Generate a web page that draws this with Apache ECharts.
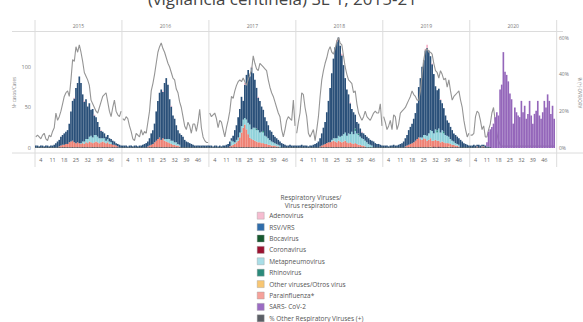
<!DOCTYPE html>
<html><head><meta charset="utf-8">
<script src="https://cdn.jsdelivr.net/npm/echarts/dist/echarts.min.js"></script>
<style>html,body{margin:0;padding:0;background:#fff}#c{width:583px;height:322px}</style>
</head><body><div id="c"></div><script>
// ---------- DATA ----------
const years = ['2015','2016','2017','2018','2019','2020'];
const weeks = [1,2,3,4,5,6,7,8,9,10,11,12,13,14,15,16,17,18,19,20,21,22,23,24,25,26,27,28,29,30,31,32,33,34,35,36,37,38,39,40,41,42,43,44,45,46,47,48,49,50,51,52];
const weekLabels = [4,11,18,25,32,39,46];

// 2015
const rsv15   = [2,2,1,2,2,1,2,2,1,2, 2,3,5,7,8,11,12,14,15,17, 23,37,49,54,68,73,82,74,58,49, 49,40,41,32,35,24,22,18,14,9, 8,6,5,5,4,4,5,4,3,3, 3,2];
const para15  = [0,0,0,0,0,0,0,0,0,0, 0,0,0,0,1,2,3,3,4,4, 6,7,8,6,5,6,5,4,5,4, 6,5,7,6,5,6,7,6,5,6, 7,6,5,6,4,4,3,3,2,1, 0,0];
const metap15 = [0,0,0,0,0,0,0,0,0,0, 0,0,0,0,0,0,0,0,0,0, 0,0,0,0,0,0,0,1,2,3, 4,5,6,8,7,9,8,7,6,5, 4,5,3,4,3,2,0,0,0,0, 0,0];
const boca15  = [1,1,1,1,1,1,1,1,1,1, 1,1,1,1,1,1,1,1,1,1, 1,1,1,1,1,1,1,1,1,1, 1,1,1,1,1,1,1,1,1,1, 1,1,1,1,1,1,1,1,1,1, 1,1];
const adeno15 = [0,0,0,0,0,0,0,0,0,0, 0,0,0,0,0,0,0,0,0,0, 0,0,0,1,0,0,0,0,0,1, 0,0,0,0,0,1,0,0,0,1, 0,0,0,0,0,0,0,0,0,0, 0,0];
const pct15   = [6,7,6,5,7,8,5,4,7,6, 9,11,19,15,17,20,24,28,30,31, 28,37,48,47,55,52,56,52,47,41, 39,37,34,26,24,22,20,19,22,25, 28,29,30,25,20,17,22,26,20,18, 17,20];

// 2016
const rsv16   = [2,2,2,1,2,2,1,2,2,1, 2,2,3,4,5,6,9,14,17,23, 36,47,55,62,57,69,75,67,49,42, 31,29,21,17,14,15,13,9,7,6, 5,4,3,2,2,2,2,2,2,2, 2,2];
const para16  = [0,0,0,0,0,0,0,0,0,0, 0,0,0,0,0,1,2,3,4,6, 8,10,12,9,11,8,7,6,5,4, 3,3,2,2,1,0,0,0,0,0, 0,0,0,0,0,0,0,0,0,0, 0,0];
const metap16 = [0,0,0,0,0,0,0,0,0,0, 0,0,0,0,0,0,0,0,0,0, 0,0,0,0,0,2,3,4,5,4, 5,3,4,2,2,0,0,0,0,0, 0,0,0,0,0,0,0,0,0,0, 0,0];
const boca16  = [1,1,1,1,1,1,1,1,1,1, 1,1,1,1,1,1,1,1,1,1, 1,1,1,1,1,1,1,1,1,1, 1,1,1,1,1,1,1,1,1,1, 1,1,1,1,1,1,1,1,1,1, 1,1];
const adeno16 = [0,0,0,0,0,0,0,0,0,0, 0,0,0,0,0,0,0,0,0,0, 0,0,0,0,1,0,0,0,0,1, 0,0,0,0,0,0,0,0,0,0, 0,0,0,0,0,0,0,0,0,0, 0,0];
const pct16   = [16,15,17,16,12,9,5,4,8,7, 6,10,7,9,8,14,20,31,35,40, 46,52,55,57,54,52,49,46,44,41, 38,37,32,30,25,22,17,12,10,14, 12,8,13,13,9,14,21,11,6,4, 3,3];

// 2017
const rsv17   = [2,2,1,2,2,1,2,1,2,2, 3,4,6,3,7,15,18,25,29,36, 23,41,55,65,59,76,67,59,50,40, 39,31,26,23,19,16,12,12,9,8, 7,6,5,5,4,3,2,2,3,2, 2,2];
const para17  = [0,0,0,0,0,0,0,0,0,0, 0,0,1,2,3,4,6,8,12,18, 24,28,22,16,12,10,9,8,7,6, 6,5,5,4,4,3,3,2,2,2, 1,1,0,0,0,0,0,0,0,0, 0,0];
const metap17 = [0,0,0,0,0,0,0,0,0,0, 0,0,0,6,4,2,3,4,6,8, 10,8,12,14,16,12,15,16,14,15, 12,14,13,10,9,8,6,5,4,3, 3,2,2,0,0,0,0,0,0,0, 0,0];
const rhino17 = [0,0,0,0,0,0,0,0,0,0, 0,0,0,0,0,0,0,0,0,0, 0,0,0,0,0,0,0,0,2,0, 0,0,2,0,0,0,0,0,0,0, 0,0,0,0,0,0,0,0,0,0, 0,0];
const boca17  = [1,1,1,1,1,1,1,1,1,1, 1,1,1,1,1,1,1,1,1,1, 1,1,1,1,1,1,1,1,1,1, 1,1,1,1,1,1,1,1,1,1, 1,1,1,1,1,1,1,1,1,1, 1,1];
const adeno17 = [0,0,0,0,0,0,0,0,0,0, 0,0,0,0,0,0,0,0,0,0, 0,2,0,0,0,1,0,0,0,1, 0,0,0,0,0,0,0,0,0,0, 0,0,0,0,0,0,0,0,0,0, 0,0];
const pct17   = [19,17,18,19,16,11,15,14,10,6, 11,15,20,28,27,31,34,36,37,36, 38,36,34,37,40,42,50,46,43,42, 46,45,44,43,42,37,33,30,28,25, 22,19,17,10,6,10,15,17,16,15, 26,12];

// 2018
const rsv18   = [2,2,2,3,2,2,2,1,2,2, 3,4,5,7,10,15,21,27,38,51, 67,82,98,112,119,121,112,99,85,67, 57,48,38,28,27,17,14,12,10,7, 7,7,7,7,6,6,7,5,4,4, 3,2];
const para18  = [0,0,0,0,0,0,0,0,0,0, 0,0,0,0,1,2,3,4,5,6, 6,7,8,7,6,8,7,6,7,8, 6,5,6,5,4,5,4,3,3,2, 2,1,0,0,0,0,0,0,0,0, 0,0];
const metap18 = [0,0,0,0,0,0,0,0,0,0, 0,0,0,0,0,0,0,0,0,0, 0,2,3,4,5,6,6,8,9,10, 8,12,10,14,12,15,13,12,10,9, 8,7,6,4,3,2,0,0,0,0, 0,0];
const rhino18 = [0,0,0,0,0,0,0,0,0,0, 0,0,0,0,0,0,0,0,0,0, 0,0,0,0,0,0,0,0,0,0, 0,0,0,0,0,3,0,2,0,0, 0,0,0,0,0,0,0,0,0,0, 0,0];
const boca18  = [1,1,1,1,1,1,1,1,1,1, 1,1,1,1,1,1,1,1,1,1, 1,1,1,1,1,1,1,1,1,1, 1,1,1,1,1,1,1,1,1,1, 1,1,1,1,1,1,1,1,1,1, 1,1];
const adeno18 = [0,0,0,0,0,0,0,0,0,0, 0,0,0,0,0,0,0,0,0,0, 0,0,0,0,2,0,0,2,0,0, 0,0,1,0,0,0,0,0,0,1, 0,0,0,0,0,0,0,0,0,0, 0,0];
const pct18   = [8,14,19,30,29,22,17,8,6,8, 10,4,10,17,28,37,42,46,49,53, 55,52,51,54,58,60,57,56,50,44, 40,37,36,35,30,31,24,19,17,15, 17,20,17,16,15,17,19,20,19,19, 24,12];

// 2019
const rsv19   = [2,2,2,1,2,2,3,2,2,3, 4,5,7,10,13,18,21,24,29,34, 44,62,73,87,92,104,108,102,91,82, 73,53,49,49,40,33,29,24,19,17, 15,13,10,10,9,8,9,7,5,4, 3,2];
const para19  = [0,0,0,0,0,0,0,0,0,0, 0,0,0,1,2,3,4,5,6,8, 10,12,10,9,11,10,8,9,10,8, 7,9,8,7,6,7,6,5,5,4, 4,3,3,2,2,1,0,0,0,0, 0,0];
const metap19 = [0,0,0,0,0,0,0,0,0,0, 0,0,0,0,0,0,0,0,0,0, 0,0,2,3,4,5,6,8,10,12, 9,13,10,15,12,14,11,10,9,8, 6,5,4,3,2,2,0,0,0,0, 0,0];
const rhino19 = [0,0,0,0,0,0,0,0,0,0, 0,0,0,0,0,0,0,0,0,0, 0,0,0,0,0,0,0,0,0,0, 0,0,3,0,0,0,2,0,0,0, 0,0,0,0,0,0,0,0,0,0, 0,0];
const corona19= [0,0,0,0,0,0,0,0,0,0, 0,0,0,0,0,0,0,0,0,0, 0,0,0,0,0,0,0,0,0,0, 1,0,0,1,0,0,0,0,0,0, 0,0,0,0,0,0,0,0,0,0, 0,0];
const other19 = [0,0,0,0,0,0,0,0,0,0, 0,0,0,0,0,0,0,0,0,0, 0,0,0,0,0,0,0,0,1,0, 0,0,0,0,0,0,0,0,0,1, 0,0,0,0,0,0,0,0,0,0, 0,0];
const boca19  = [1,1,1,1,1,1,1,1,1,1, 1,1,1,1,1,1,1,1,1,1, 1,1,1,1,1,1,1,1,1,1, 1,1,1,1,1,1,1,1,1,1, 1,1,1,1,1,1,1,1,1,1, 1,1];
const adeno19 = [0,0,0,0,0,0,0,0,0,0, 0,0,0,0,0,0,0,0,0,0, 0,0,0,0,0,2,4,0,0,1, 0,0,0,0,1,0,0,0,0,0, 0,0,0,0,0,0,0,0,0,0, 0,0];
const pct19   = [17,14,10,12,15,10,18,17,10,13, 19,20,21,22,24,26,28,31,29,28, 26,26,31,40,48,53,54,52,52,51, 46,42,41,38,42,40,37,38,33,37, 31,26,28,29,30,31,26,22,15,10, 6,8];

// 2020
const rsv20   = [2,2,3,2,2,3,2,2,2,2, 1,1,0,0,0,0,0,0,0,0, 0,0,0,0,0,0,0,0,0,0, 0,0,0,0,0,0,0,0,0,0, 0,0,0,0,0,0,0,0,0,0, 0,0];
const para20  = [0,0,0,0,1,0,0,1,1,0, 0,0,0,0,0,0,0,0,0,0, 0,0,0,0,0,0,0,0,0,0, 0,0,0,0,0,0,0,0,0,0, 0,0,0,0,0,0,0,0,0,0, 0,0];
const boca20  = [1,1,1,1,1,1,1,1,1,1, 1,1,1,0,0,0,0,0,0,0, 0,0,0,0,0,0,0,0,0,0, 0,0,0,0,0,0,0,0,0,0, 0,0,0,0,0,0,0,0,0,0, 0,0];
const sars20  = [0,0,0,0,0,0,0,0,0,0, 5,18,22,26,30,38,44,40,72,78, 118,94,90,82,67,60,30,50,44,40, 38,58,44,52,36,42,58,40,30,42, 46,58,40,36,44,58,50,66,58,42, 52,36];
const pct20   = [7,7,8,17,20,19,15,10,12,6, 6,10,13,19,22,15,8,4,2,1, 1,1,1,1,1,1,1,1,1,1, 1,1,1,1,1,1,1,1,1,1, 1,1,1,1,1,1,1,1,1,1, 1,1];

// ---------- BUILD ----------
const yearData = [
  {boca:boca15, para:para15, metap:metap15, rsv:rsv15, adeno:adeno15, pct:pct15},
  {boca:boca16, para:para16, metap:metap16, rsv:rsv16, adeno:adeno16, pct:pct16},
  {boca:boca17, para:para17, metap:metap17, rhino:rhino17, rsv:rsv17, adeno:adeno17, pct:pct17},
  {boca:boca18, para:para18, metap:metap18, rhino:rhino18, rsv:rsv18, adeno:adeno18, pct:pct18},
  {boca:boca19, corona:corona19, other:other19, para:para19, metap:metap19, rhino:rhino19, rsv:rsv19, adeno:adeno19, pct:pct19},
  {boca:boca20, para:para20, rsv:rsv20, sars:sars20, pct:pct20}
];
const virusDefs = [
  {key:'boca',   name:'Bocavirus',                 color:'#2b3f48'},
  {key:'corona', name:'Coronavirus',               color:'#9c1230'},
  {key:'other',  name:'Other viruses/Otros virus', color:'#f6c26b'},
  {key:'para',   name:'Parainfluenza*',            color:'#ee8174'},
  {key:'metap',  name:'Metapneumovirus',           color:'#8fd1da'},
  {key:'rhino',  name:'Rhinovirus',                color:'#2a8a7a'},
  {key:'rsv',    name:'RSV/VRS',                   color:'#2a5079'},
  {key:'adeno',  name:'Adenovirus',                color:'#f4b3c9'},
  {key:'sars',   name:'SARS- CoV-2',               color:'#9466ba'}
];
const pctName = '% Other Respiratory Viruses (+)';
const legendOrder = [
  {name:'Adenovirus', c:'#f6bcd0'}, {name:'RSV/VRS', c:'#2f6dab'}, {name:'Bocavirus', c:'#16592f'},
  {name:'Coronavirus', c:'#9c1230'}, {name:'Metapneumovirus', c:'#a9dee7'}, {name:'Rhinovirus', c:'#2a8a7a'},
  {name:'Other viruses/Otros virus', c:'#f8c672'}, {name:'Parainfluenza*', c:'#f6a19a'},
  {name:'SARS- CoV-2', c:'#9b6bc3'}, {name:pctName, c:'#5b5f66'}
];

const FONT = 'Open Sans';
const L0 = 35, PW = 86.95, TOP = 37.5, BASE = 148;
const grids = [], xAxes = [], yAxes = [], series = [], graphics = [];
years.forEach((yr, i) => {
  grids.push({left: L0 + i*PW, width: PW, top: TOP, height: BASE - TOP, containLabel:false});
  xAxes.push({type:'category', gridIndex:i, data:weeks, boundaryGap:true,
    axisLine:{show:false}, axisTick:{show:false}, splitLine:{show:false},
    axisLabel:{interval:(idx)=>weekLabels.includes(weeks[idx]), fontSize:5.5, color:'#666', margin:9, fontFamily:FONT}});
  yAxes.push({type:'value', gridIndex:i, min:0, max:136, interval:50, show:i===0,
    axisLine:{show:false}, axisTick:{show:false}, splitLine:{show:false},
    axisLabel:{showMaxLabel:false, fontSize:5.5, color:'#777', margin:4, fontFamily:FONT},
    name: i===0 ? 'Nº casos/Cases' : '', nameLocation:'middle', nameGap:19,
    nameTextStyle:{fontSize:4.5, color:'#888', fontFamily:FONT}});
  yAxes.push({type:'value', gridIndex:i, position:'right', min:0, max:60, interval:20, show:i===5,
    axisLine:{show:false}, axisTick:{show:false}, splitLine:{show:false},
    axisLabel:{formatter:'{value}%', fontSize:5, color:'#777', margin:4, fontFamily:FONT},
    name: i===5 ? '% (+) OVR/ORV' : '', nameLocation:'middle', nameGap:22, nameRotate:-90,
    nameTextStyle:{fontSize:4.5, color:'#888', fontFamily:FONT}});
  const d = yearData[i];
  virusDefs.forEach(v => {
    if (!d[v.key]) return;
    series.push({type:'bar', name:v.name, xAxisIndex:i, yAxisIndex:2*i, stack:'s'+i, data:d[v.key],
      itemStyle:{color:v.color}, barCategoryGap:'0%', z:2, silent:true, emphasis:{disabled:true}});
  });
  series.push({type:'line', name:pctName, xAxisIndex:i, yAxisIndex:2*i+1, data:d.pct,
    symbol:'none', lineStyle:{color:'#959595', width:1.1}, itemStyle:{color:'#5b5f66'},
    z: i===5 ? 1 : 3, silent:true, emphasis:{disabled:true}});
  graphics.push({type:'text', x: L0 + (i+0.5)*PW, y: 26,
    style:{text:yr, fontSize:5, fill:'#777', textAlign:'center', textVerticalAlign:'middle', fontFamily:FONT}});
});
// frame lines
for (let i = 0; i <= years.length; i++) {
  graphics.push({type:'line', shape:{x1:L0+i*PW, y1:20, x2:L0+i*PW, y2:167}, style:{stroke:'#dcdcdc', lineWidth:1}, z:-1});
}
graphics.push({type:'line', shape:{x1:12, y1:31.5, x2:563, y2:31.5}, style:{stroke:'#dcdcdc', lineWidth:1}, z:-1});
graphics.push({type:'line', shape:{x1:12, y1:153, x2:583, y2:153}, style:{stroke:'#dcdcdc', lineWidth:1}, z:-1});
// legend title
graphics.push({type:'text', x:311, y:197, style:{text:'Respiratory Viruses/', fontSize:6.5, fill:'#555', textAlign:'center', textVerticalAlign:'middle', fontFamily:FONT}});
graphics.push({type:'text', x:311, y:205.5, style:{text:'Virus respiratorio', fontSize:6.5, fill:'#555', textAlign:'center', textVerticalAlign:'middle', fontFamily:FONT}});

const chart = echarts.init(document.getElementById('c'), null, {renderer:'svg'});
chart.setOption({
  animation:false,
  backgroundColor:'#fff',
  title:{text:'(vigilancia centinela) SE 1, 2015-21', left:148, top:-10, padding:0,
    textStyle:{fontSize:17, fontWeight:'normal', color:'#444', fontFamily:FONT}},
  legend:{orient:'vertical', left:257, top:212, height:130, padding:0, itemWidth:7, itemHeight:7, itemGap:4, icon:'rect',
    selectedMode:false,
    itemStyle:{borderColor:'#999', borderWidth:0.4},
    textStyle:{fontSize:6.5, color:'#555', lineHeight:7, fontFamily:FONT},
    data: legendOrder.map(o => ({name:o.name, itemStyle:{color:o.c}}))},
  grid:grids, xAxis:xAxes, yAxis:yAxes, series:series, graphic:graphics
});
</script></body></html>
